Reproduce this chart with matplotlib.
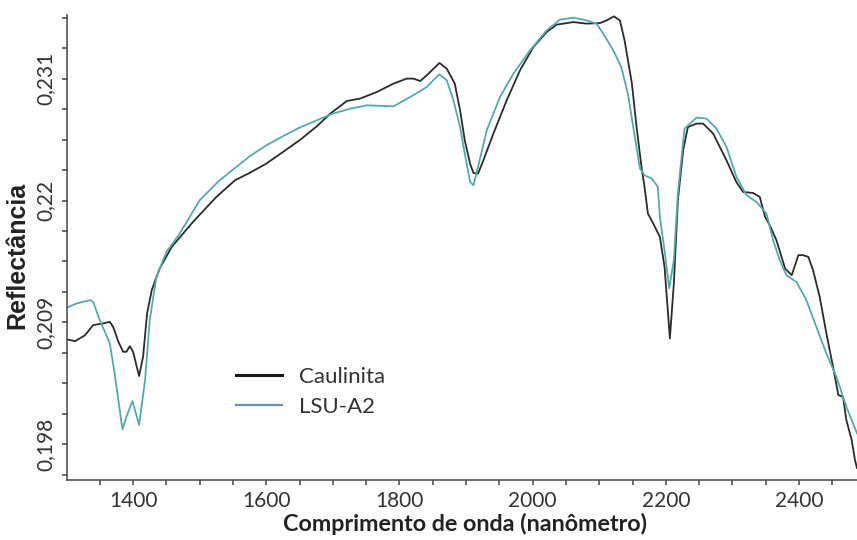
import matplotlib
matplotlib.use("Agg")
import matplotlib.pyplot as plt
from matplotlib.lines import Line2D

# espectros (nm, reflectancia)
caulinita_nm = [1300, 1313, 1328, 1340, 1355, 1365, 1370, 1378, 1385, 1390, 1395, 1400,
                1409, 1415, 1421, 1428, 1440, 1458, 1490, 1525, 1553, 1575, 1600, 1625,
                1650, 1676, 1696, 1721, 1741, 1766, 1791, 1811, 1821, 1831, 1841, 1860,
                1871, 1883, 1891, 1898, 1906, 1911, 1918, 1926, 1941, 1961, 1981, 2001,
                2021, 2036, 2061, 2081, 2101, 2111, 2122, 2131, 2138, 2149, 2156, 2164,
                2168, 2173, 2181, 2191, 2198, 2206, 2212, 2218, 2226, 2233, 2246, 2256,
                2271, 2291, 2306, 2316, 2331, 2341, 2349, 2356, 2366, 2379, 2389, 2399,
                2406, 2414, 2421, 2431, 2441, 2451, 2459, 2466, 2471, 2479, 2484, 2487]
caulinita_refl = [0.20747, 0.20731, 0.20785, 0.20876, 0.20891, 0.20905, 0.20860, 0.20725,
                  0.20635, 0.20635, 0.20686, 0.20635, 0.20416, 0.20590, 0.20981, 0.21191,
                  0.21387, 0.21582, 0.21807, 0.22032, 0.22183, 0.22249, 0.22333, 0.22438,
                  0.22544, 0.22670, 0.22784, 0.22898, 0.22920, 0.22979, 0.23055, 0.23100,
                  0.23100, 0.23078, 0.23130, 0.23241, 0.23190, 0.23055, 0.22814, 0.22544,
                  0.22333, 0.22249, 0.22243, 0.22363, 0.22604, 0.22904, 0.23175, 0.23385,
                  0.23520, 0.23587, 0.23610, 0.23596, 0.23601, 0.23625, 0.23662, 0.23625,
                  0.23445, 0.23055, 0.22663, 0.22273, 0.22122, 0.21883, 0.21793, 0.21672,
                  0.21401, 0.20756, 0.21252, 0.22003, 0.22453, 0.22663, 0.22694, 0.22694,
                  0.22604, 0.22363, 0.22165, 0.22077, 0.22068, 0.22032, 0.21852, 0.21777,
                  0.21642, 0.21387, 0.21326, 0.21507, 0.21507, 0.21491, 0.21371, 0.21131,
                  0.20801, 0.20500, 0.20244, 0.20229, 0.20019, 0.19839, 0.19658, 0.19586]

lsu_nm = [1300, 1315, 1335, 1340, 1350, 1365, 1373, 1384, 1390, 1399, 1409, 1418,
          1425, 1435, 1450, 1470, 1500, 1530, 1575, 1600, 1625, 1650, 1676, 1700,
          1726, 1751, 1791, 1816, 1841, 1848, 1860, 1871, 1881, 1891, 1898, 1906,
          1911, 1918, 1931, 1951, 1971, 1996, 2021, 2041, 2061, 2081, 2096, 2106,
          2121, 2133, 2143, 2151, 2161, 2168, 2179, 2188, 2191, 2198, 2205, 2212,
          2218, 2228, 2246, 2261, 2276, 2291, 2306, 2321, 2336, 2351, 2361, 2371,
          2381, 2396, 2411, 2426, 2441, 2456, 2471, 2487]
lsu_refl = [0.21032, 0.21071, 0.21101, 0.21086, 0.20921, 0.20711, 0.20410, 0.19935,
            0.20049, 0.20190, 0.19974, 0.20380, 0.20921, 0.21311, 0.21536, 0.21702,
            0.22003, 0.22183, 0.22399, 0.22498, 0.22580, 0.22658, 0.22724, 0.22784,
            0.22829, 0.22859, 0.22850, 0.22934, 0.23024, 0.23069, 0.23139, 0.23085,
            0.22904, 0.22663, 0.22424, 0.22168, 0.22138, 0.22303, 0.22634, 0.22934,
            0.23145, 0.23355, 0.23535, 0.23632, 0.23650, 0.23625, 0.23596, 0.23506,
            0.23355, 0.23204, 0.22965, 0.22663, 0.22291, 0.22228, 0.22198, 0.22122,
            0.21852, 0.21552, 0.21207, 0.21462, 0.22063, 0.22649, 0.22748, 0.22739,
            0.22649, 0.22483, 0.22213, 0.22048, 0.21987, 0.21883, 0.21642, 0.21462,
            0.21326, 0.21266, 0.21101, 0.20860, 0.20620, 0.20410, 0.20139, 0.19899]

x_ticks = [1400, 1600, 1800, 2000, 2200, 2400]
y_ticks = [0.198, 0.209, 0.22, 0.231]
y_tick_labels = ["0,198", "0,209", "0,22", "0,231"]

plt.rcParams['font.family'] = ['Lato', 'DejaVu Sans']

fig = plt.figure(figsize=(8.57, 5.40), dpi=100)
ax = fig.add_axes([66.5 / 857, 60 / 540, 790.5 / 857, 465 / 540])

ax.plot(caulinita_nm, caulinita_refl, color='#2b2b2b', lw=1.3)
ax.plot(lsu_nm, lsu_refl, color='#55a9ab', lw=1.3)

ax.set_xlim(1300, 2487)
ax.set_ylim(0.19478, 0.23674)

ax.set_xticks(x_ticks)
ax.set_xticks(range(1350, 2487, 50), minor=True)
ax.set_yticks(y_ticks)
ax.set_yticklabels(y_tick_labels, rotation=90, va='center')
ax.set_yticks([0.198 + 0.00275 * k for k in range(-1, 15)], minor=True)

for s in ['top', 'right']:
    ax.spines[s].set_visible(False)
for s in ['left', 'bottom']:
    ax.spines[s].set_color('#444444')
    ax.spines[s].set_linewidth(1.1)

ax.tick_params(which='both', direction='out', length=3.6, width=1.1, color='#444444')
ax.tick_params(axis='both', labelsize=15, labelcolor='#333333', pad=4)

ax.set_xlabel('Comprimento de onda (nanômetro)', fontsize=16.8, fontweight='bold', color='#222222')
ax.xaxis.set_label_coords(0.504, -0.071)
ax.set_ylabel('Reflectância', fontsize=18, fontweight='bold', family='Liberation Sans', color='#222222')
ax.yaxis.set_label_coords(-0.047, 0.484)

handles = [Line2D([], [], color='#1a1a1a', lw=2.2), Line2D([], [], color='#6a90b3', lw=1.6)]
ax.legend(handles, ['Caulinita', 'LSU-A2'], loc='upper left', bbox_to_anchor=(0.214, 0.244),
          frameon=False, fontsize=16, handlelength=2.1, handletextpad=0.75,
          labelspacing=0.45, borderpad=0, borderaxespad=0, labelcolor='#333333')

plt.savefig('out.png', dpi=100)
